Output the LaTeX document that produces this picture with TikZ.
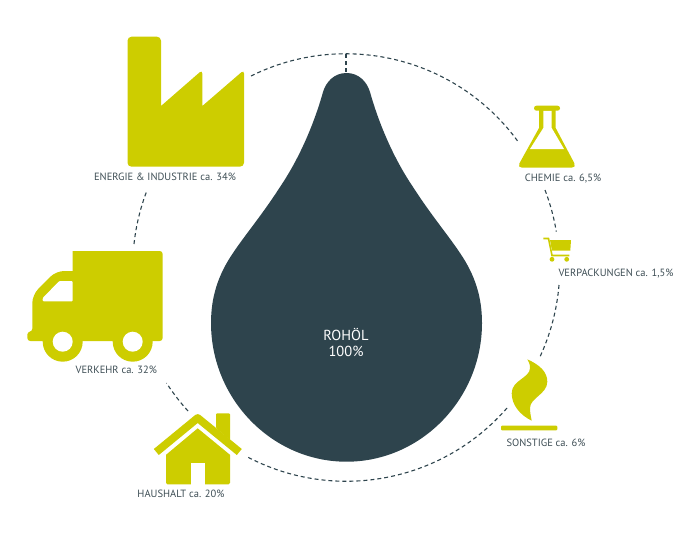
\documentclass[tikz,border=0pt]{standalone}
\usepackage{fontspec}
\setmainfont{PT Sans}
\usetikzlibrary{positioning}
\definecolor{olive}{RGB}{205,205,0}
\definecolor{petrol}{RGB}{46,68,77}
\definecolor{labelgray}{RGB}{62,78,85}
\tikzset{
  lbl/.style={text=labelgray, font=\fontsize{10.5}{12}\selectfont, inner sep=0pt, text height=7pt, text depth=2pt},
  ring/.style={draw=petrol, line width=1.1pt, dash pattern=on 4pt off 3pt},
  icon/.style={fill=olive, draw=none},
  hole/.style={fill=white, draw=none}
}

\begin{document}
\begin{tikzpicture}[x=1pt, y=-1pt]
  \useasboundingbox (0,0) rectangle (700,535);

  % Define nodes
  \coordinate (hub) at (346,267);
  \coordinate (rt) at (346,54);
  \coordinate (rtip) at (346,73);

  % drop
  \fill[petrol] (346.5,73) .. controls (334,73) and (326,82) .. (323,92)
    .. controls (318,110) and (305,150) .. (280,187)
    .. controls (262,215) and (245,235) .. (233,253)
    .. controls (218,275) and (211,297) .. (211,323)
    .. controls (211,399) and (272,461.7) .. (346.5,461.7)
    .. controls (421,461.7) and (482,399) .. (482,323)
    .. controls (482,297) and (475,275) .. (460,253)
    .. controls (448,235) and (431,215) .. (413,187)
    .. controls (388,150) and (375,110) .. (370,92)
    .. controls (367,82) and (359,73) .. (346.5,73) -- cycle;
  \node[text=white, font=\fontsize{14.5}{15.5}\selectfont, align=center, inner sep=0pt] (rohoel) at (346,342.5) {ROHÖL\\100\%};

  % Define ring
  \coordinate (a1) at (251,76);
  \coordinate (a2) at (545,190);
  \coordinate (a3) at (559,285);
  \coordinate (a4) at (507,408);
  \coordinate (a5) at (188,411);
  \coordinate (a6) at (134,244);
  \draw[ring] (a1) arc[start angle=116.4, end angle=35.9, radius=213pt];
  \draw[ring] (a2) arc[start angle=21, end angle=9.4, radius=213pt];
  \draw[ring] (a3) arc[start angle=-4.8, end angle=-24.8, radius=213pt];
  \draw[ring] (a4) arc[start angle=-41, end angle=-118, radius=213pt];
  \draw[ring] (a5) arc[start angle=222.3, end angle=212.8, radius=213pt];
  \draw[ring] (a6) arc[start angle=173.8, end angle=158.8, radius=213pt];
  \draw[ring] (rt) -- (rtip);

  % factory
  \fill[icon, rounded corners=4pt] (127.5,36.7) -- (161,36.7) [sharp corners] -- (161,106)
    [rounded corners=3.5pt] -- (202.3,70) [sharp corners] -- (202.3,106)
    [rounded corners=3.5pt] -- (244,70) [rounded corners=4pt] -- (244,166.7) -- (127.5,166.7) -- cycle;

  % truck
  \fill[icon, rounded corners=3pt] (72.7,251) -- (162.7,251) -- (162.7,341) -- (27.3,341)
    -- (27.3,331.7) -- (32.3,331.7) [rounded corners=8pt] -- (32.3,295) -- (56,271) [sharp corners] -- (72.7,271) -- cycle;
  \fill[hole, rounded corners=1pt] (72.7,281) -- (59.3,281) -- (42.7,298) -- (42.7,301.3) -- (72.7,301.3) -- cycle;
  \foreach \wx in {62.7,132.7} {
    \fill[icon] (\wx,341.7) circle[radius=20pt];
    \fill[hole] (\wx,341.7) circle[radius=10pt];
  }

  % house
  \fill[icon, rounded corners=1pt] (216,428) -- (216,413.3) -- (230,413.3) -- (230,440) -- cycle;
  \fill[icon] (197.7,428.3) -- (230,454.8) [rounded corners=1.5pt] -- (230,484.3) -- (166,484.3) [sharp corners] -- (166,454.8) -- cycle;
  \fill[hole] (190.7,462.7) rectangle (205,485);
  \draw[olive, line width=7.8pt, line join=round] (156.3,452) -- (197.7,418) -- (239.3,452);

  % flask
  \fill[icon, rounded corners=4pt] (539,108) [sharp corners] -- (539,128) [rounded corners=5pt] -- (517,167.7) -- (576.7,167.7) [sharp corners] -- (555.7,128) -- (555.7,108) -- cycle;
  \fill[hole] (543.3,110.7) -- (543.3,128) -- (530,149) -- (564,149) -- (551.7,128) -- (551.7,110.7) -- cycle;
  \fill[icon, rounded corners=2.4pt] (534,105.7) rectangle (560,110.7);

  % cart
  \draw[olive, line width=1.6pt] (543.3,238.5) -- (548.5,238.5) -- (552,255.5) -- (569.3,255.5);
  \fill[icon] (550,240) -- (571,240) -- (570.3,250.5) -- (552,250.5) -- cycle;
  \fill[icon] (552,259.3) circle[radius=2.4pt];
  \fill[icon] (566.7,259.3) circle[radius=2.4pt];

  % flame
  \fill[icon] (527.3,359.3) .. controls (540,365) and (547.3,372) .. (547.3,381.7)
    .. controls (547.3,394) and (530,398) .. (530,408)
    .. controls (530,413) and (531,417) .. (531.7,420.7)
    .. controls (520,415) and (511.7,405) .. (511.7,393.3)
    .. controls (511.7,380) and (530,378) .. (530,368)
    .. controls (530,364) and (528.5,361) .. (527.3,359.3) -- cycle;
  \fill[icon, rounded corners=1pt] (501,425.7) rectangle (557.3,430.3);

  % labels
  \node[lbl, above=84pt of hub, xshift=-181pt] (energie) {ENERGIE \& INDUSTRIE ca. 34\%};
  \node[lbl, below=99.3pt of hub, xshift=-229.7pt] (verkehr) {VERKEHR ca. 32\%};
  \node[lbl, below=223pt of hub, xshift=-165pt] (haushalt) {HAUSHALT ca. 20\%};
  \node[lbl, above=83pt of hub, xshift=217pt] (chemie) {CHEMIE ca. 6,5\%};
  \node[lbl, below=2pt of hub, xshift=270pt] (verpackungen) {VERPACKUNGEN ca. 1,5\%};
  \node[lbl, below=172pt of hub, xshift=200pt] (sonstige) {SONSTIGE ca. 6\%};

\end{tikzpicture}
\end{document}
